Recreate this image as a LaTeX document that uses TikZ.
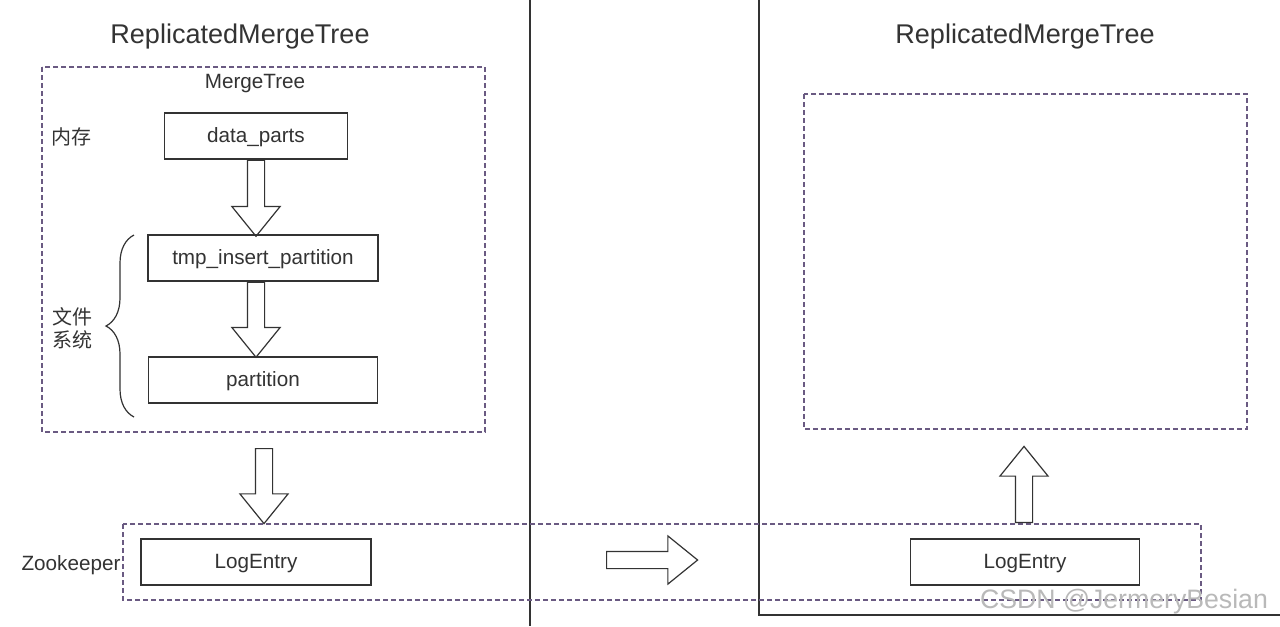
\documentclass[tikz,border=0pt]{standalone}
\usepackage{fontspec}
\setmainfont{Liberation Sans}
\newfontfamily\cjk{Noto Sans CJK SC}
\usetikzlibrary{calc,shapes.arrows,decorations.pathreplacing}
\definecolor{ink}{HTML}{333333}
\definecolor{grp}{HTML}{6A5A82}

\begin{document}
\begin{tikzpicture}[x=0.75pt,y=-0.75pt,
  lbl/.style={text=ink,font=\fontsize{15.5}{17.5}\selectfont},
  box/.style={lbl,draw=ink,line width=1pt,minimum width=#1*0.75pt,minimum height=34.5pt,inner sep=0pt,text height=9.5pt,text depth=0pt},
  grpbox/.style={draw=grp,line width=0.9pt,dash pattern=on 3.5pt off 2.5pt},
  harr/.style={single arrow,draw=ink,line width=0.9pt,inner sep=6pt,single arrow head extend=11.6pt,single arrow tip angle=78,minimum height=#1*0.75pt,anchor=tail}]
  \useasboundingbox[fill=white] (0,0) rectangle (1280,626);
  \draw[ink,line width=1pt] (530,0) -- (530,626);
  \draw[ink,line width=1pt] (759,0) -- (759,615) -- (1280,615);
  \draw[grpbox] (42,67) rectangle (485,432);
  \draw[grpbox] (804,94) rectangle (1247,429);
  \draw[grpbox] (123,524) rectangle (1201,600);
  \node[lbl,font=\fontsize{20.3}{24}\selectfont] (rl) at (240,36) {ReplicatedMergeTree};
  \node[lbl,font=\fontsize{20.3}{24}\selectfont] (rr) at (1025,36) {ReplicatedMergeTree};
  \node[lbl] (mt) at (255,84) {MergeTree};
  \node[lbl,font=\cjk\fontsize{15}{17.5}\selectfont] (mem) at (71,137) {内存};
  \node[lbl,font=\cjk\fontsize{15}{17.5}\selectfont,align=center] (fs) at (72,328) {文件\\系统};
  \node[lbl] (zk) at (71,565) {Zookeeper};
  \node[box=183] (d) at (256,136) {data\_parts};
  \node[box=230] (t) at (263,258) {tmp\_insert\_partition};
  \node[box=229] (p) at (263,380) {partition};
  \node[box=230] (l) at (256,562) {LogEntry};
  \node[box=229] (r) at (1025,562) {LogEntry};
  \node[harr=76,rotate=-90] (a1) at (d.south) {};
  \node[harr=75,rotate=-90] (a2) at (d.south |- t.south) {};
  \node[harr=75,rotate=-90] (a3) at (264,448) {};
  \node[harr=91] (a4) at (606,560) {};
  \node[harr=76,rotate=90] (a5) at (1024,523) {};
  \draw[ink,line width=0.9pt,decorate,decoration={brace,amplitude=21pt}] (134,417) -- (134,235);
  \node[text=gray!55,font=\fontsize{20}{24}\selectfont] (wm) at (1124,602) {CSDN @JermeryBesian};
\end{tikzpicture}
\end{document}
